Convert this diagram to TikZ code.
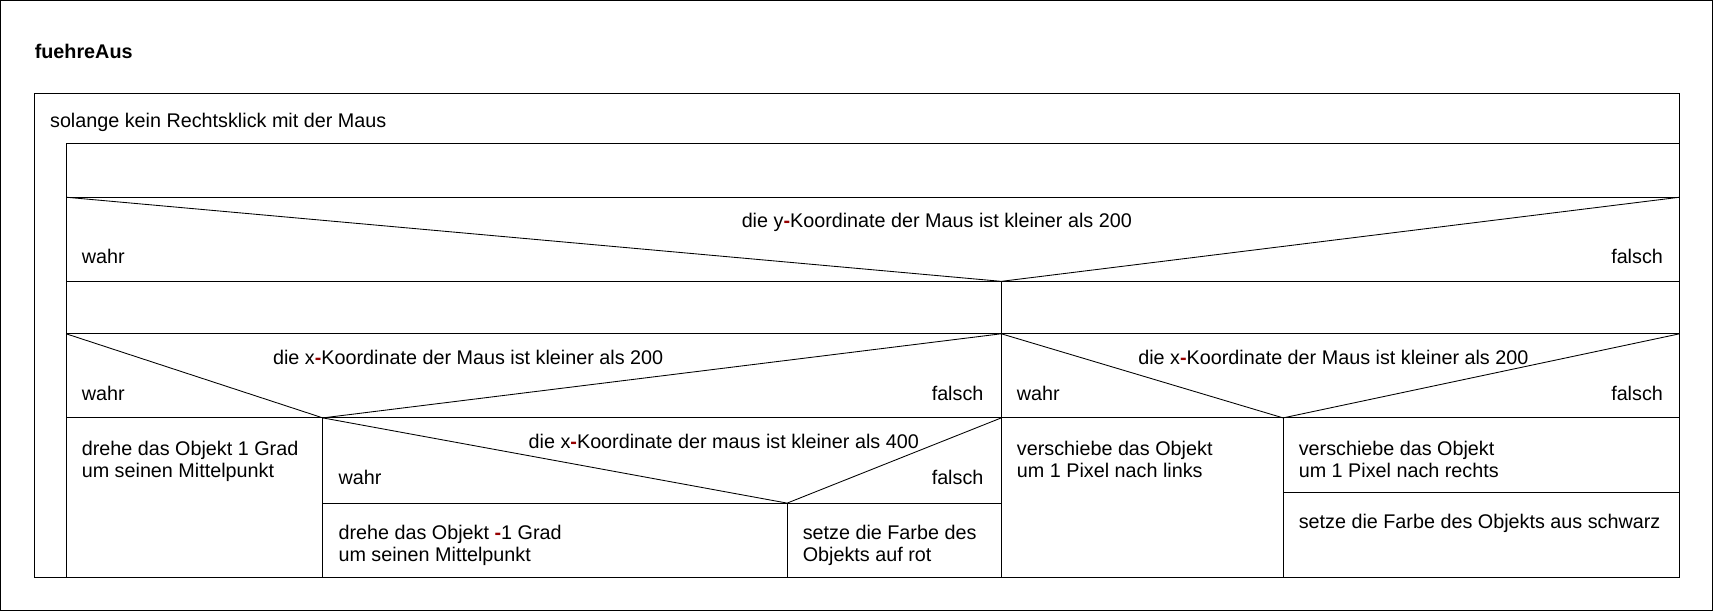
\documentclass[tikz,border=0pt]{standalone}
\usepackage{fontspec}
\setmainfont{Liberation Sans}
\definecolor{dashred}{RGB}{150,0,0}
\usetikzlibrary{positioning}
\newcommand{\rd}{\textcolor{dashred}{\textbf{-}}}
\tikzset{
  txt/.style={anchor=base west, inner sep=0pt, font=\fontsize{10.3}{11.4}\selectfont, align=left},
  txtm/.style={anchor=north west, inner sep=0pt, font=\fontsize{10.3}{11.4}\selectfont, align=left},
  txtr/.style={anchor=base east, inner sep=0pt, font=\fontsize{10.3}{11.4}\selectfont},
  txtc/.style={anchor=base, inner sep=0pt, font=\fontsize{10.3}{11.4}\selectfont},
  blk/.style={draw=black, line width=0.6pt},
  cut/.style={draw=black, line width=0.45pt}
}
\begin{document}
\begin{tikzpicture}[x=0.02cm, y=-0.02cm]
  % frame
  \draw[blk] (0,0) rectangle (1567,558);
  \useasboundingbox (0,0) rectangle (1567,558);
  \node[txt, font=\fontsize{10.3}{11.4}\selectfont\bfseries] (title) at (31,53) {fuehreAus};

  % loop
  \draw[blk] (31,85) -- (1537,85) -- (1537,131) -- (60,131) -- (60,528) -- (31,528) -- cycle;
  \node[txt] (loop) at (45,116) {solange kein Rechtsklick mit der Maus};
  \draw[blk] (60,131) rectangle (1537,180);

  % decision y < 200
  \draw[blk] (60,180) rectangle (1537,257);
  \draw[cut] (60,180) -- (916,257) -- (1537,180);
  \node[txtc] (q1) at (857,208) {die y\rd Koordinate der Maus ist kleiner als 200};
  \node[txt] (q1w) at (74,241) {wahr};
  \node[txtr] (q1f) at (1522,241) {falsch};

  % empty rows
  \draw[blk] (60,257) rectangle (916,305);
  \draw[blk] (916,257) rectangle (1537,305);

  % decision x < 200 (left)
  \draw[blk] (60,305) rectangle (916,382);
  \draw[cut] (60,305) -- (295,382) -- (916,305);
  \node[txtc] (q2) at (428,333) {die x\rd Koordinate der Maus ist kleiner als 200};
  \node[txt] (q2w) at (74,366) {wahr};
  \node[txtr] (q2f) at (900,366) {falsch};

  % decision x < 200 (right)
  \draw[blk] (916,305) rectangle (1537,382);
  \draw[cut] (916,305) -- (1174,382) -- (1537,305);
  \node[txtc] (q3) at (1220,333) {die x\rd Koordinate der Maus ist kleiner als 200};
  \node[txt] (q3w) at (930,366) {wahr};
  \node[txtr] (q3f) at (1522,366) {falsch};

  % left actions
  \draw[blk] (60,382) rectangle (295,528);
  \node[txtm] (a1) at (74,403) {drehe das Objekt 1 Grad\\um seinen Mittelpunkt};

  % decision x < 400
  \draw[blk] (295,382) rectangle (916,460);
  \draw[cut] (295,382) -- (720,460) -- (916,382);
  \node[txtc] (q4) at (662,410) {die x\rd Koordinate der maus ist kleiner als 400};
  \node[txt] (q4w) at (309,443) {wahr};
  \node[txtr] (q4f) at (900,443) {falsch};
  \draw[blk] (295,460) rectangle (720,528);
  \node[txtm] (a2) at (309,480) {drehe das Objekt \rd1 Grad\\um seinen Mittelpunkt};
  \draw[blk] (720,460) rectangle (916,528);
  \node[txtm] (a3) at (734,480) {setze die Farbe des\\Objekts auf rot};

  % right actions
  \draw[blk] (916,382) rectangle (1174,528);
  \node[txtm] (a4) at (930,403) {verschiebe das Objekt\\um 1 Pixel nach links};
  \draw[blk] (1174,382) rectangle (1537,450);
  \node[txtm] (a5) at (1188,403) {verschiebe das Objekt\\um 1 Pixel nach rechts};
  \draw[blk] (1174,450) rectangle (1537,528);
  \node[txt] (a6) at (1188,483) {setze die Farbe des Objekts aus schwarz};
\end{tikzpicture}
\end{document}
